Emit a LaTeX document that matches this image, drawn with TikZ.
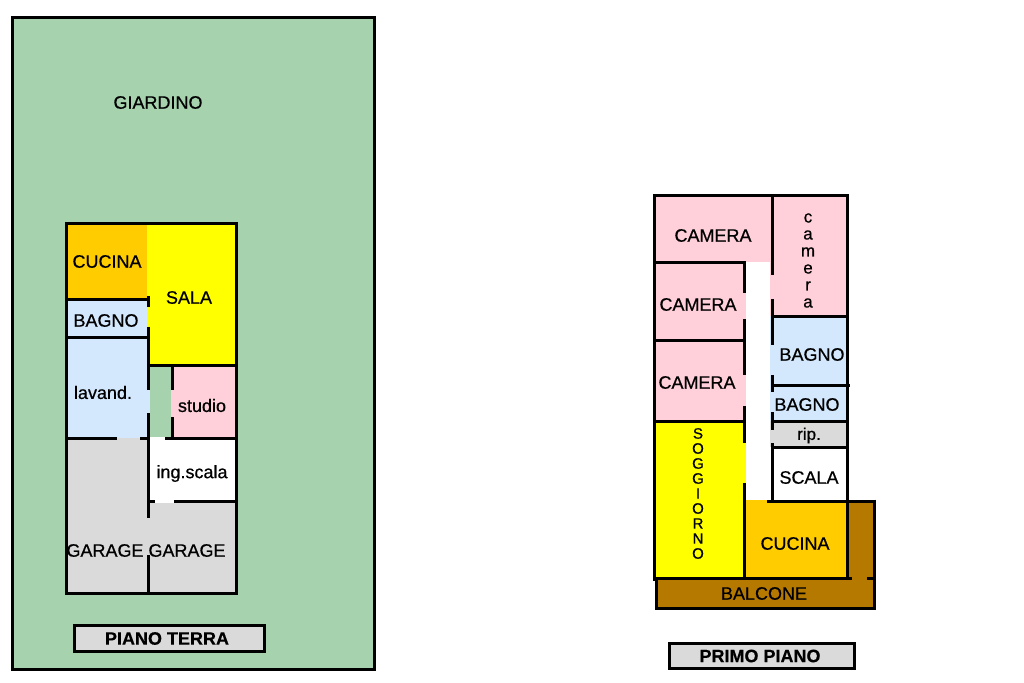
\documentclass[tikz,border=0pt]{standalone}
\usepackage{fontspec}
\setmainfont[FakeBold=0.6]{Liberation Sans}
\newfontfamily\titlefont[FakeBold=0.3]{Liberation Sans Bold}
\definecolor{giardino}{RGB}{166,211,174}
\definecolor{sala}{RGB}{255,255,0}
\definecolor{cucina}{RGB}{255,204,0}
\definecolor{bagno}{RGB}{211,232,253}
\definecolor{camera}{RGB}{255,208,218}
\definecolor{garage}{RGB}{218,218,218}
\definecolor{balcone}{RGB}{181,121,0}
\tikzset{%
    wall/.style={line width=3pt},
    room/.style={font=\fontsize{18}{18}\selectfont, inner sep=0pt, yshift=-0.5pt},
    titlebox/.style={draw, line width=3pt, fill=garage, font=\fontsize{18}{18}\selectfont, inner sep=0pt},
    column/.style={room, align=center, font=\fontsize{#1}{#1}\selectfont}
}
\begin{document}
\begin{tikzpicture}[x=1pt,y=-1pt]
    \useasboundingbox (0,0) rectangle (1024,682);
    % piano terra
    \draw[wall,fill=giardino] (12.5,17.5) rectangle (374,669.5);
    \fill[cucina] (67,223) rectangle (148,299);
    \fill[bagno] (67,299) rectangle (147,337);
    \fill[bagno] (67,337) rectangle (150,438);
    \fill[sala] (147,223) rectangle (237,365);
    \fill[camera] (170.5,365) rectangle (237,438);
    \fill[garage] (67,438) rectangle (237,593);
    \fill[white] (150,437) rectangle (237,503);
    \draw[wall] (66.7,223.5) rectangle (236.7,593);
    \draw[wall] (67,299) -- (148,299);
    \draw[wall] (67,337) -- (148,337);
    \draw[wall] (148,365) -- (237,365);
    \draw[wall] (67,438) -- (116.7,438) (140,438) -- (148,438) (165,438) -- (237,438);
    \draw[wall] (148,501) -- (155,501) (174,501) -- (237,501);
    \draw[wall] (148.5,296) -- (148.5,307) (148.5,327) -- (148.5,390) (148.5,413) -- (148.5,518) (148.5,555) -- (148.5,593);
    \draw[wall] (172.3,365) -- (172.3,390) (172.3,417) -- (172.3,438);
    \node[room] (giardino) at (158,102) {GIARDINO};
    \node[room] (cucinaT) at (107,261) {CUCINA};
    \node[room] (salaT) at (189,297) {SALA};
    \node[room] (bagnoT) at (106,320) {BAGNO};
    \node[room] (lavand) at (103,392) {lavand.};
    \node[room] (studio) at (202,405) {studio};
    \node[room] (ingscala) at (192,473) {ing.scala};
    \node[room] (garageA) at (105,550) {GARAGE};
    \node[room] (garageB) at (187,550) {GARAGE};
    \node[titlebox, minimum width=190pt, minimum height=26pt] (terra) at (169.5,638.5) {\hspace*{-5pt}\titlefont PIANO TERRA};
    % primo piano
    \fill[balcone] (656,500) rectangle (875,608);
    \fill[camera] (655,195) rectangle (772,262);
    \fill[camera] (770,195) rectangle (847,316);
    \fill[camera] (655,262) rectangle (746,421);
    \fill[bagno] (770,316) rectangle (847,421);
    \fill[garage] (770,421) rectangle (847,447);
    \fill[sala] (655,421) rectangle (746,578);
    \fill[cucina] (746,500) rectangle (847,578);
    \draw[wall] (654.5,195.5) -- (847.5,195.5);
    \draw[wall] (654.5,194) -- (654.5,581);
    \draw[wall] (847.5,194) -- (847.5,578);
    \draw[wall] (772,195) -- (772,275) (772,299) -- (772,345) (772,375) -- (772,392) (772,412) -- (772,430) (772,443) -- (772,500);
    \draw[wall] (744.5,262) -- (744.5,293) (744.5,319) -- (744.5,375) (744.5,406) -- (744.5,443) (744.5,483) -- (744.5,578);
    \draw[wall] (654.5,262) -- (746,262) (654.5,340) -- (746,340) (654.5,421) -- (746,421);
    \draw[wall] (772,316.7) -- (847,316.7) (772,385) -- (850,385) (772,421) -- (847,421) (772,447) -- (847,447);
    \draw[wall] (767,501) -- (875.5,501);
    \draw[wall] (874.5,499.5) -- (874.5,608) -- (656.5,608) -- (656.5,578);
    \draw[wall] (654.5,578) -- (852,578) (867,578) -- (875,578);
    \node[room] (cameraA) at (713,235) {CAMERA};
    \node[room] (cameraB) at (698,304) {CAMERA};
    \node[room] (cameraC) at (697,382) {CAMERA};
    \node[column=17] (cameraD) at (808,260) {c\\a\\m\\e\\r\\a};
    \node[room] (bagnoA) at (812,354) {BAGNO};
    \node[room] (bagnoB) at (807,404) {BAGNO};
    \node[room, font=\fontsize{17}{18}\selectfont] (rip) at (809,435) {rip.};
    \node[room] (scala) at (809,477) {SCALA};
    \node[column=15] (soggiorno) at (698,493) {S\\O\\G\\G\\I\\O\\R\\N\\O};
    \node[room] (cucinaP) at (795,543) {CUCINA};
    \node[room] (balconeT) at (764,593) {BALCONE};
    \node[titlebox, minimum width=185pt, minimum height=25pt] (primo) at (762,656) {\hspace*{-4pt}\titlefont PRIMO PIANO};
\end{tikzpicture}
\end{document}
